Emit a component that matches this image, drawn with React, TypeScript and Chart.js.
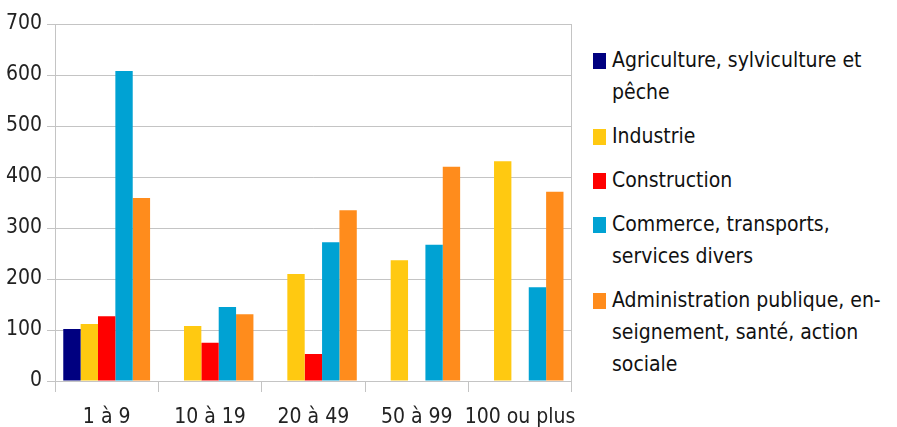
import React, { useEffect, useRef } from "react";
import { Chart, registerables } from "chart.js";

Chart.register(...registerables);

const categories = ["1 à 9", "10 à 19", "20 à 49", "50 à 99", "100 ou plus"];
const seriesNames = [
  "Agriculture, sylviculture et pêche",
  "Industrie",
  "Construction",
  "Commerce, transports, services divers",
  "Administration publique, enseignement, santé, action sociale",
];
const legendLines = [
  ["Agriculture, sylviculture et", "pêche"],
  ["Industrie"],
  ["Construction"],
  ["Commerce, transports,", "services divers"],
  ["Administration publique, en-", "seignement, santé, action", "sociale"],
];
const agriculture = [102, null, null, null, null];
const industrie = [112, 108, 210, 237, 431];
const construction = [127, 75, 53, null, null];
const commerce = [608, 145, 272, 267, 184];
const administration = [359, 131, 335, 420, 371];
const colors = ["#000080", "#ffc911", "#ff0000", "#00a2d3", "#ff8c1c"];
const yTicks = [0, 100, 200, 300, 400, 500, 600, 700];

const FONT = "'DejaVu Sans Condensed', 'DejaVu Sans', sans-serif";
const GRID = "#c4c4c4";

export default function App() {
  const ref = useRef<HTMLCanvasElement>(null);
  useEffect(() => {
    if (!ref.current) return;
    const values = [agriculture, industrie, construction, commerce, administration];
    const chart = new Chart(ref.current, {
      type: "bar",
      data: {
        labels: categories,
        datasets: values.map((v, i) => ({
          label: seriesNames[i],
          data: v,
          backgroundColor: colors[i],
          borderWidth: 0,
          categoryPercentage: 0.84,
          barPercentage: 1,
        })),
      },
      options: {
        animation: false,
        responsive: false,
        maintainAspectRatio: false,
        layout: { padding: { top: 24, right: 16, left: 0, bottom: 0 } },
        plugins: { legend: { display: false }, tooltip: { enabled: false } },
        scales: {
          x: {
            grid: {
              offset: true,
              color: (ctx: any) => (ctx.index === 0 || ctx.index === undefined ? GRID : "rgba(0,0,0,0)"),
              tickColor: GRID,
              tickLength: 11,
              lineWidth: 1,
            },
            border: { color: GRID },
            ticks: {
              color: "#222",
              font: { family: FONT, size: 21 },
              padding: 13,
              maxRotation: 0,
              autoSkip: false,
            },
            afterFit: (s: any) => { s.height = 46; },
          },
          y: {
            min: 0,
            max: 700,
            afterBuildTicks: (s: any) => { s.ticks = yTicks.map((v) => ({ value: v })); },
            grid: { color: GRID, tickColor: GRID, tickLength: 8, lineWidth: 1 },
            border: { color: GRID },
            ticks: { color: "#222", font: { family: FONT, size: 21 }, padding: 5 },
            afterFit: (s: any) => { s.width = 55; },
          },
        },
      },
    });
    return () => chart.destroy();
  }, []);

  return (
    <div style={{ position: "fixed", left: 0, top: 0, width: 897, height: 427, background: "#fff" }}>
      <canvas ref={ref} width={590} height={427} style={{ position: "absolute", left: 0, top: 0 }} />
      <div style={{ position: "absolute", left: 593, top: 44, fontFamily: FONT, fontSize: 21, color: "#111" }}>
        {legendLines.map((lines, i) => (
          <div key={i} style={{ position: "relative", marginBottom: 12, lineHeight: "32px" }}>
            <div style={{ position: "absolute", left: 0, top: 9, width: 13, height: 16, background: colors[i] }} />
            <div style={{ marginLeft: 19 }}>
              {lines.map((l, j) => (
                <div key={j} style={{ whiteSpace: "nowrap" }}>{l}</div>
              ))}
            </div>
          </div>
        ))}
      </div>
    </div>
  );
}
